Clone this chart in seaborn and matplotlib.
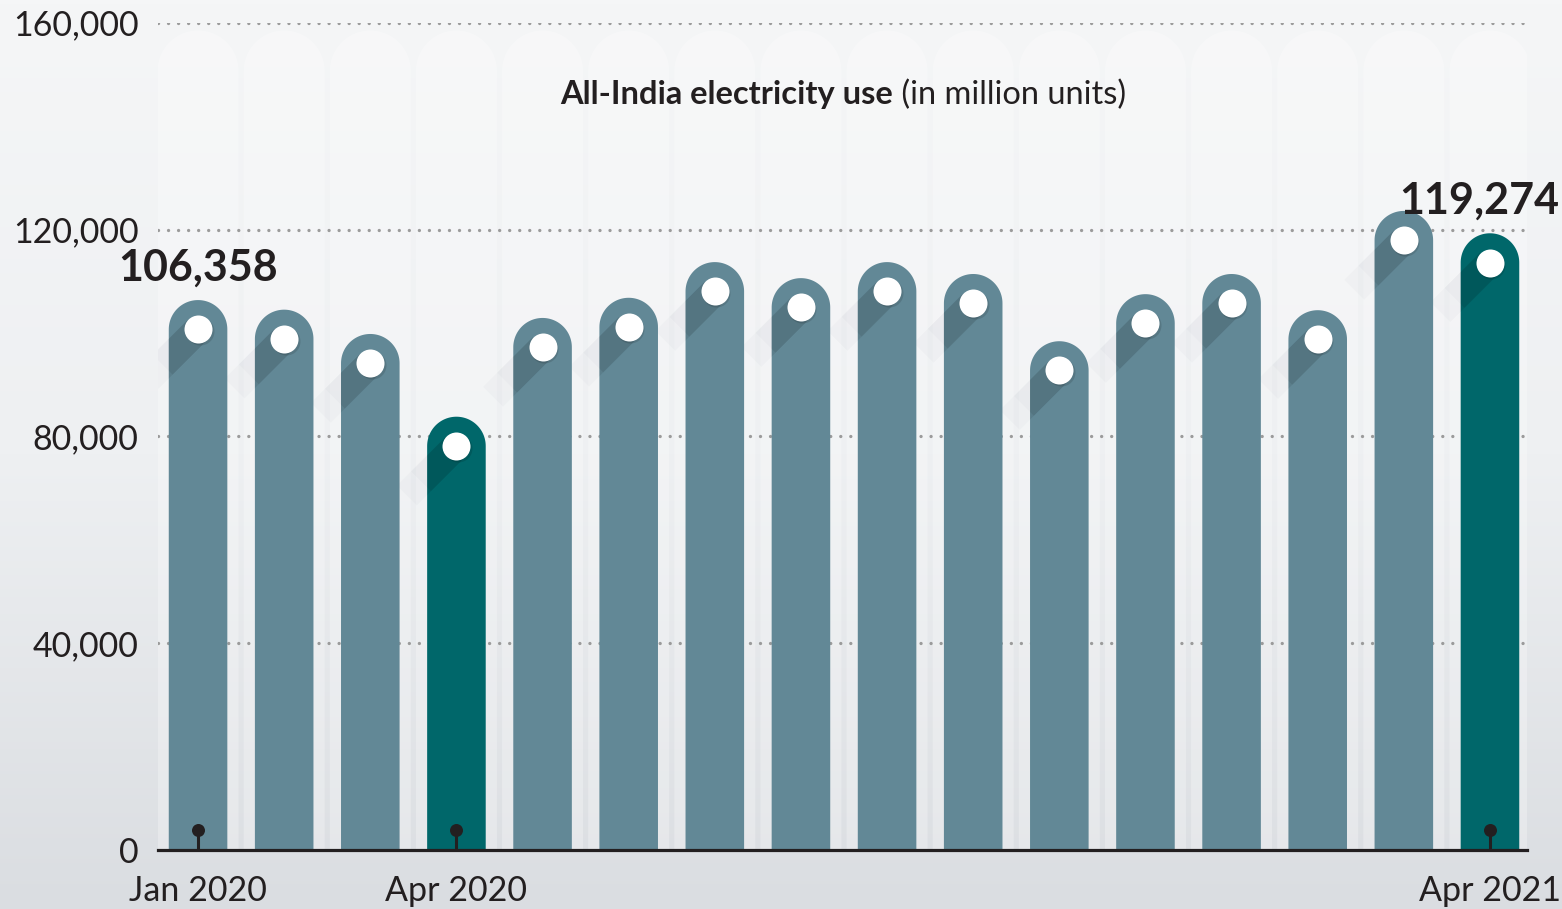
import numpy as np
import pandas as pd
import matplotlib
matplotlib.use("Agg")
import matplotlib.pyplot as plt
import seaborn as sns
from matplotlib.patches import Polygon, Rectangle
from matplotlib.colors import LinearSegmentedColormap

# ---------------- data ----------------
months = ["Jan 2020", "Feb 2020", "Mar 2020", "Apr 2020", "May 2020", "Jun 2020",
          "Jul 2020", "Aug 2020", "Sep 2020", "Oct 2020", "Nov 2020", "Dec 2020",
          "Jan 2021", "Feb 2021", "Mar 2021", "Apr 2021"]
usage = [106358, 104500, 99800, 83800, 102900, 106800, 113700, 110600,
         113700, 111400, 98400, 107500, 111400, 104400, 123600, 119274]
highlight = [False, False, False, True, False, False, False, False,
             False, False, False, False, False, False, False, True]
tick_months = ["Jan 2020", "Apr 2020", "Apr 2021"]
annotated_months = ["Jan 2020", "Apr 2021"]
y_ticks = [0, 40000, 80000, 120000, 160000]
title_bold = "All-India electricity use"
title_regular = " (in million units)"

# ---------------- style ----------------
W, H, DPI = 1562, 909, 100
BAR_COLOR = "#628896"
HI_COLOR = "#00676a"
INK = "#231f20"

sns.set_theme(style="white")
plt.rcParams["font.family"] = ["Lato", "DejaVu Sans"]

fig = plt.figure(figsize=(W / DPI, H / DPI), dpi=DPI)

# background gradient
bg = fig.add_axes([0, 0, 1, 1], zorder=-10)
grad = np.linspace(0, 1, 256).reshape(-1, 1)
cmap = LinearSegmentedColormap.from_list("bg", ["#f5f6f7", "#eef0f2", "#dadde1"])
bg.imshow(grad, aspect="auto", cmap=cmap, extent=[0, 1, 0, 1], origin="upper")
bg.axis("off")

L, R, B, T = 158 / W, 1527 / W, (H - 850) / H, (H - 22.7) / H
ax = fig.add_axes([L, B, R - L, T - B])
ax.patch.set_alpha(0)

n = len(months)
xlim = (-0.465, n - 1 + 0.43)
ylim = (0, 160000)
px_x = (R - L) * W / (xlim[1] - xlim[0])      # pixels per x unit
px_y = (T - B) * H / (ylim[1] - ylim[0])      # pixels per y unit

df = pd.DataFrame({"month": months, "usage": usage,
                   "group": ["hi" if h else "lo" for h in highlight]})
sns.barplot(data=df, x="month", y="usage", hue="group",
            palette={"lo": BAR_COLOR, "hi": HI_COLOR}, dodge=False,
            width=0.68, legend=False, ax=ax, saturation=1, order=months)
ax.set_xlim(*xlim)
ax.set_ylim(*ylim)
bars = [p for p in ax.patches if isinstance(p, Rectangle) and p.get_height() > 0]


def rounded_top(xc, half_w, top, bottom, nseg=60):
    ry = half_w * px_x / px_y
    th = np.linspace(0, np.pi, nseg)
    arc = np.column_stack([xc + half_w * np.cos(th), top - ry + ry * np.sin(th)])
    pts = np.vstack([[xc + half_w, bottom], arc, [xc - half_w, bottom]])
    return pts, ry


# background columns
for i in range(n):
    pts, _ = rounded_top(i, 0.47, ylim[1] - 1500, -5000)
    ax.add_patch(Polygon(pts, closed=True, facecolor="white", alpha=0.28,
                         edgecolor="none", zorder=0.5))

# gridlines
for yv in y_ticks[1:]:
    ax.axhline(yv, color="#9b9b9b", lw=2.4, linestyle=(0, (0.01, 3.0)),
               dash_capstyle="round", zorder=1)

# replace bars with rounded-top bars
dot_r_px = 14.0
d = np.array([-1.0, -1.0]) / np.sqrt(2)
nrm = np.array([1.0, -1.0]) / np.sqrt(2)


def off(v, s):
    return np.array([v[0] * s / px_x, v[1] * s / px_y])


for p in bars:
    x0, w, h = p.get_x(), p.get_width(), p.get_height()
    col = p.get_facecolor()
    p.remove()
    xc = x0 + w / 2
    pts, ry = rounded_top(xc, w / 2, h, -5000)
    bar = Polygon(pts, closed=True, facecolor=col, edgecolor="none", zorder=3)
    ax.add_patch(bar)
    cy = h - ry
    c = np.array([xc, cy])
    for L_px, a_in, a_out in [(70, 0.07, 0.035), (50, 0.07, 0.035)]:
        sh = np.array([c + off(nrm, dot_r_px), c - off(nrm, dot_r_px),
                       c - off(nrm, dot_r_px) + off(d, L_px),
                       c + off(nrm, dot_r_px) + off(d, L_px)])
        inner = Polygon(sh, closed=True, facecolor="black", alpha=a_in,
                        edgecolor="none", zorder=3.5)
        ax.add_patch(inner)
        inner.set_clip_path(bar)
        outer = Polygon(sh, closed=True, facecolor="#6f7a85", alpha=a_out,
                        edgecolor="none", zorder=2)
        ax.add_patch(outer)
    ax.scatter([xc + 1.5 / px_x], [cy - 2.0 / px_y], s=(2 * dot_r_px * 0.72) ** 2,
               color="black", alpha=0.12, linewidths=0, zorder=4)
    ax.scatter([xc], [cy], s=(2 * dot_r_px * 0.72) ** 2, color="white",
               linewidths=0, zorder=4.5)

# value annotations
renderer = fig.canvas.get_renderer()
for m in annotated_months:
    i = months.index(m)
    ann = ax.annotate(f"{usage[i]:,}", (i, usage[i]), xytext=(0, 9),
                      textcoords="offset points", ha="center", va="bottom",
                      fontsize=31, fontweight="bold", color=INK,
                      annotation_clip=False)
    ext = ann.get_window_extent(renderer)
    if ext.x1 > W - 3:
        shift_pt = (ext.x1 - (W - 3)) * 72 / DPI
        ann.set_position((-shift_pt, 9))

# axes styling
for s in ["top", "right", "left"]:
    ax.spines[s].set_visible(False)
ax.spines["bottom"].set_color(INK)
ax.spines["bottom"].set_linewidth(2.3)
ax.spines["bottom"].set_zorder(6)
ax.set_yticks(y_ticks)
ax.set_yticklabels([f"{v:,}" for v in y_ticks])
ax.tick_params(axis="y", length=0, pad=14, labelsize=24.5, labelcolor=INK)
tick_idx = [months.index(m) for m in tick_months]
ax.set_xticks(tick_idx)
ax.set_xticklabels(tick_months)
ax.tick_params(axis="x", length=11, width=2.2, color=INK, pad=7,
               labelsize=24.5, labelcolor=INK, direction="out")
ax.set_xlabel("")
ax.set_ylabel("")
ax.grid(False)
ax.set_xlim(*xlim)
ax.set_ylim(*ylim)

# lollipop stems on ticks
stem_h = 20 / px_y
for i in tick_idx:
    ax.plot([i, i], [0, stem_h], color=INK, lw=2.2, zorder=6, solid_capstyle="butt")
    ax.scatter([i], [stem_h], s=(13 * 0.72) ** 2, color=INK, zorder=6, linewidths=0)

# title (bold + regular)
ty = (H - 104) / H
t1 = fig.text(0, ty, title_bold, fontsize=23.5, fontweight="bold", color=INK, va="baseline")
t2 = fig.text(0, ty, title_regular, fontsize=23.5, color=INK, va="baseline")
w1 = t1.get_window_extent(renderer).width
w2 = t2.get_window_extent(renderer).width
x_start = 843 - (w1 + w2) / 2
t1.set_x(x_start / W)
t2.set_x((x_start + w1) / W)

fig.savefig("out.png", dpi=DPI)
